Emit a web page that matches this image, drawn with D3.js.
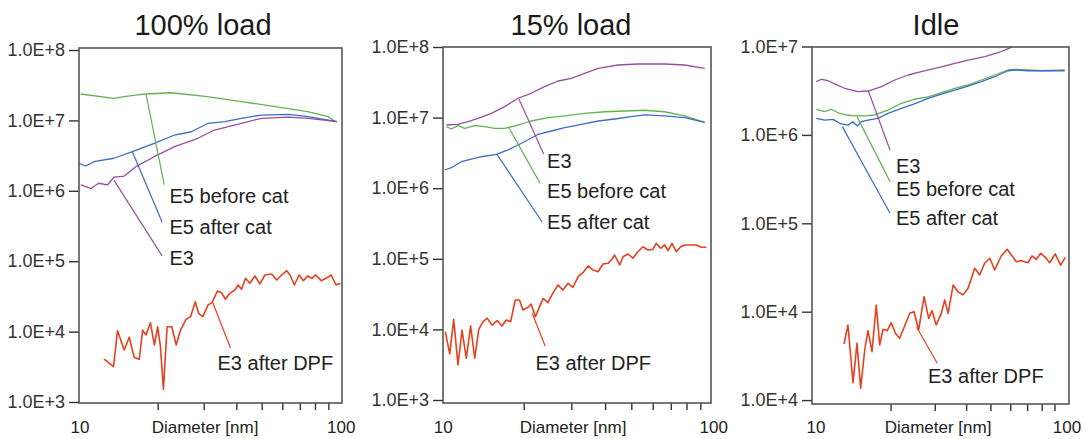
<!DOCTYPE html>
<html>
<head>
<meta charset="utf-8">
<script src="https://cdn.jsdelivr.net/npm/d3@7"></script>
<style>
  body { margin: 0; background: #fff; }
  text { font-family: "Liberation Sans", Arial, sans-serif; }
</style>
</head>
<body>
<svg id="chart" width="1086" height="439"></svg>
<script>
// ---- data: [diameter nm, concentration] ----
const load100_E5before = [[10.15,2.37e7],[13.6,2.06e7],[14.9,2.17e7],[16.7,2.3e7],[18.1,2.37e7],[22.5,2.47e7],[31.0,2.17e7],[41.9,1.85e7],[56.3,1.57e7],[75.0,1.33e7],[90.0,1.13e7],[95.6,9.6e6]];
const load100_E5after = [[10.0,2.46e6],[10.6,2.25e6],[11.4,2.59e6],[13.6,2.9e6],[16.0,3.59e6],[19.4,4.73e6],[23.2,6.2e6],[26.9,6.9e6],[31.2,9.1e6],[36.1,9.6e6],[41.8,1.07e7],[49.9,1.19e7],[63.2,1.22e7],[75.5,1.13e7],[97.2,9.6e6]];
const load100_E3 = [[10.15,1.21e6],[11.1,1.08e6],[11.9,1.28e6],[12.85,1.21e6],[13.6,1.56e6],[14.9,1.62e6],[16.5,2.2e6],[19.4,3.05e6],[23.2,4.23e6],[28.5,5.57e6],[33.0,7.3e6],[41.8,9.1e6],[49.9,1.07e7],[63.2,1.11e7],[75.5,1.07e7],[97.2,9.6e6]];
const load100_E3DPF = [[12.48,4.05e3],[13.55,3.17e3],[14.04,1.03e4],[14.9,5.48e3],[15.57,8.3e3],[16.27,4.3e3],[17.01,4.05e3],[17.52,1.05e4],[18.05,8.95e3],[18.76,1.34e4],[19.43,6.45e3],[20.0,1.17e4],[20.5,6.1e3],[21.04,1.51e3],[21.74,1.17e4],[22.65,1.17e4],[23.55,6.45e3],[24.46,1.05e4],[25.72,1.5e4],[26.73,1.63e4],[27.86,2.66e4],[28.69,1.82e4],[29.8,1.63e4],[31.16,2.39e4],[32.28,2.58e4],[33.86,3.77e4],[35.08,3.57e4],[36.35,2.88e4],[37.76,3.5e4],[39.47,3.9e4],[40.63,4.59e4],[41.88,3.99e4],[43.39,5.71e4],[45.07,4.85e4],[47.12,6.16e4],[49.24,4.75e4],[51.47,6.37e4],[54.61,6.58e4],[57.08,5.41e4],[59.67,6.37e4],[62.37,7.33e4],[64.22,6.37e4],[66.71,4.59e4],[69.55,6.37e4],[72.24,5.29e4],[75.1,6.16e4],[77.8,5.71e4],[80.6,6.37e4],[84.5,5.29e4],[88.1,5.71e4],[92.3,6.37e4],[96.3,4.59e4],[100,4.85e4]];

const load15_E3 = [[10.35,7.85e6],[11.43,8.04e6],[12.45,8.75e6],[13.55,9.77e6],[15.17,1.15e7],[17.0,1.43e7],[19.05,1.88e7],[21.3,2.21e7],[23.9,2.74e7],[26.8,3.3e7],[30.0,3.6e7],[33.6,4.24e7],[37.7,4.99e7],[44.7,5.56e7],[53.0,5.74e7],[66.4,5.74e7],[78.8,5.56e7],[93.4,4.99e7]];
const load15_E5before = [[10.35,7.43e6],[10.8,6.9e6],[11.43,7.68e6],[12.1,7.05e6],[13.18,7.68e6],[14.35,7.43e6],[15.62,7.05e6],[17.0,7.05e6],[19.05,7.85e6],[21.3,8.95e6],[24.6,9.97e6],[28.4,1.06e7],[33.6,1.15e7],[39.9,1.21e7],[47.3,1.24e7],[56.1,1.27e7],[66.4,1.21e7],[78.8,1.06e7],[93.4,8.57e6]];
const load15_E5after = [[10.2,1.81e6],[10.8,1.95e6],[11.76,2.37e6],[12.8,2.59e6],[13.94,2.79e6],[15.84,3.02e6],[17.5,3.48e6],[19.05,4.09e6],[20.7,4.82e6],[22.6,5.8e6],[25.3,6.46e6],[28.4,7.2e6],[32.7,8.04e6],[37.7,8.95e6],[43.4,9.55e6],[50.0,1.03e7],[56.1,1.09e7],[66.4,1.06e7],[78.8,9.97e6],[93.4,8.57e6]];
const load15_E3DPF = [[10.26,9.27e3],[10.65,4.49e3],[11.02,1.39e4],[11.43,3.13e3],[11.83,9.8e3],[12.27,3.9e3],[12.73,1.12e4],[13.18,3.9e3],[13.64,1.0e4],[14.15,1.29e4],[14.66,1.44e4],[15.27,1.15e4],[15.97,1.33e4],[16.62,1.12e4],[17.25,1.36e4],[17.9,1.29e4],[18.6,2.61e4],[19.3,2.61e4],[19.87,1.88e4],[20.75,2.06e4],[21.3,2.29e4],[22.1,1.51e4],[22.9,2.1e4],[23.6,2.75e4],[24.6,2.39e4],[25.6,3.24e4],[26.8,4.26e4],[27.9,3.61e4],[29.2,4.5e4],[30.4,3.95e4],[31.8,5.58e4],[33.1,6.35e4],[34.6,7.91e4],[36.1,6.93e4],[37.7,6.57e4],[39.3,8.44e4],[41.0,8.63e4],[42.4,9.84e4],[43.4,1.13e5],[45.3,8.17e4],[46.6,1.07e5],[48.6,1.17e5],[50.7,1.02e5],[52.9,1.26e5],[55.2,1.48e5],[57.6,1.33e5],[60.1,1.36e5],[61.8,1.66e5],[64.2,1.41e5],[66.4,1.57e5],[68.4,1.3e5],[70.7,1.66e5],[73.3,1.26e5],[76.2,1.48e5],[78.8,1.57e5],[83.3,1.57e5],[86.9,1.57e5],[90.7,1.46e5],[94.7,1.46e5]];

const idle_E3 = [[10.12,4.0e6],[10.6,4.26e6],[11.27,4.1e6],[11.98,3.77e6],[13.12,3.37e6],[14.83,3.08e6],[16.5,3.16e6],[18.4,3.51e6],[20.8,4.18e6],[23.5,4.76e6],[26.5,5.19e6],[31.9,5.9e6],[36.1,6.46e6],[40.7,7.03e6],[47.5,7.67e6],[53.6,8.5e6],[60.6,9.8e6],[63.4,1.05e7]];
const idle_E5before = [[10.12,1.95e6],[10.93,1.83e6],[11.61,1.95e6],[12.35,1.78e6],[13.33,1.68e6],[14.39,1.64e6],[15.78,1.64e6],[17.3,1.68e6],[19.54,1.91e6],[22.08,2.28e6],[24.9,2.53e6],[28.2,2.7e6],[31.9,3.0e6],[36.1,3.37e6],[40.7,3.67e6],[46.0,4.18e6],[52.0,4.76e6],[58.7,5.42e6],[62.5,5.52e6],[70.6,5.42e6],[79.7,5.32e6],[98.8,5.42e6]];
const idle_E5after = [[10.12,1.54e6],[10.93,1.47e6],[11.79,1.5e6],[12.73,1.33e6],[13.53,1.29e6],[14.17,1.41e6],[14.74,1.26e6],[15.29,1.41e6],[16.25,1.47e6],[17.8,1.54e6],[19.54,1.75e6],[22.08,2.0e6],[24.9,2.24e6],[28.2,2.59e6],[31.9,2.9e6],[36.1,3.22e6],[40.7,3.57e6],[46.0,4.0e6],[52.0,4.55e6],[58.7,5.32e6],[62.5,5.42e6],[70.6,5.32e6],[79.7,5.32e6],[98.8,5.32e6]];
const idle_E3DPF = [[13.05,4.31e3],[13.53,7.08e3],[14.17,1.57e3],[14.7,4.39e3],[15.2,1.36e3],[15.78,3.69e3],[16.26,6.1e3],[16.87,3.53e3],[17.54,1.19e4],[18.1,4.2e3],[18.66,6.32e3],[19.41,6.1e3],[20.14,7.51e3],[20.9,5.7e3],[21.74,5.0e3],[22.76,6.89e3],[23.84,9.59e3],[24.8,1.0e4],[25.88,6.21e3],[27.2,1.48e4],[28.37,8.41e3],[29.25,1.03e4],[30.4,7.08e3],[31.86,9.59e3],[32.86,1.36e4],[33.9,9.59e3],[35.5,2.0e4],[37.1,1.68e4],[38.9,1.55e4],[40.7,1.84e4],[42.2,2.49e4],[43.3,3.1e4],[45.3,2.6e4],[47.4,3.53e4],[49.7,4.02e4],[52.0,2.96e4],[55.2,4.27e4],[58.3,5.08e4],[60.6,4.38e4],[63.4,3.68e4],[66.4,3.78e4],[70.6,3.58e4],[73.2,4.27e4],[76.2,3.92e4],[79.3,4.58e4],[82.7,4.12e4],[86.1,3.58e4],[90.6,4.5e4],[95.2,3.37e4],[99.3,4.12e4]];

// tick values and labels
const xTicks = [20, 30, 40, 50, 60, 70, 80, 90];
const loadTicks = [1e8, 1e7, 1e6, 1e5, 1e4, 1e3];
const loadTickLabels = ["1.0E+8", "1.0E+7", "1.0E+6", "1.0E+5", "1.0E+4", "1.0E+3"];
const idleTicks = [1e7, 1e6, 1e5, 1e4, 1e3];
const idleTickLabels = ["1.0E+7", "1.0E+6", "1.0E+5", "1.0E+4", "1.0E+4"];

// leader labels: text, anchor on curve [d, v], leader end [d, v], text pos [d, v]
const load100_notes = [
  ["E5 before cat", "green",  [18.06, 2.35e7], [21.2, 1.21e6], [22.2, 6.7e5]],
  ["E5 after cat",  "blue",   [16.0, 3.59e6],  [20.8, 3.6e5],  [22.2, 2.43e5]],
  ["E3",            "purple", [13.6, 1.42e6],  [20.8, 1.19e5], [22.2, 8.8e4]],
  ["E3 after DPF",  "red",    [32.4, 2.66e4],  [38.0, 5.85e3], [33.9, 2.85e3]]
];
const load15_notes = [
  ["E3",            "purple", [19.2, 1.83e7],  [23.7, 3.05e6], [24.4, 1.93e6]],
  ["E5 before cat", "green",  [17.6, 7.29e6],  [23.0, 1.17e6], [24.4, 7.2e5]],
  ["E5 after cat",  "blue",   [15.9, 3.05e6],  [23.4, 3.32e5], [24.4, 2.64e5]],
  ["E3 after DPF",  "red",    [21.5, 1.69e4],  [24.0, 5.82e3], [22.1, 2.66e3]]
];
const idle_notes = [
  ["E3",            "purple", [16.3, 3.16e6],  [19.9, 6.75e5], [21.0, 3.7e5]],
  ["E5 before cat", "green",  [14.7, 1.61e6],  [19.9, 2.96e5], [21.0, 2.04e5]],
  ["E5 after cat",  "blue",   [12.85, 1.24e6], [19.9, 1.3e5],  [21.0, 9.57e4]],
  ["E3 after DPF",  "red",    [25.4, 6.67e3],  [30.7, 2.61e3], [28.2, 1.56e3]]
];

const colors = { green: "#62b254", blue: "#3d6cc4", purple: "#9a4c9e", red: "#e6401e" };

const panels = [
  { title: "100% load", cx: 203, frame: [79, 342, 48, 403], xr: [79, 340.3], yd: [1e3, 1e8], yr: [402, 50],
    ticks: loadTicks, labels: loadTickLabels, notes: load100_notes,
    series: [[load100_E5before, "green"], [load100_E5after, "blue"], [load100_E3, "purple"], [load100_E3DPF, "red"]] },
  { title: "15% load", cx: 571, frame: [443, 711, 47, 403], xr: [442.3, 712.7], yd: [1e3, 1e8], yr: [400, 47],
    ticks: loadTicks, labels: loadTickLabels, notes: load15_notes,
    series: [[load15_E5before, "green"], [load15_E5after, "blue"], [load15_E3, "purple"], [load15_E3DPF, "red"]] },
  { title: "Idle", cx: 936, frame: [812, 1069, 47, 404], xr: [815, 1066], yd: [1e3, 1e7], yr: [400.1, 46.5],
    ticks: idleTicks, labels: idleTickLabels, notes: idle_notes,
    series: [[idle_E5before, "green"], [idle_E5after, "blue"], [idle_E3, "purple"], [idle_E3DPF, "red"]] }
];

const svg = d3.select("#chart");
const defs = svg.append("defs");

panels.forEach((p, i) => {
  const [fl, fr, ft, fb] = p.frame;
  const x = d3.scaleLog().domain([10, 100]).range(p.xr);
  const y = d3.scaleLog().domain(p.yd).range(p.yr);
  const g = svg.append("g");

  defs.append("clipPath").attr("id", "clip" + i)
    .append("rect").attr("x", fl).attr("y", ft).attr("width", fr - fl).attr("height", fb - ft);

  // title
  g.append("text").attr("x", p.cx).attr("y", 35).attr("text-anchor", "middle")
    .attr("font-size", 29).attr("fill", "#1a1a1a").text(p.title);

  // y axis
  g.append("g")
    .attr("transform", `translate(${fl},0)`)
    .call(d3.axisLeft(y).tickValues(p.ticks).tickFormat((d, j) => p.labels[j]).tickSize(10).tickPadding(4))
    .call(a => a.select(".domain").remove())
    .attr("font-size", 18).attr("font-family", "Liberation Sans, Arial, sans-serif")
    .attr("color", "#333")
    .selectAll("line").attr("stroke-width", 1.4);

  // x axis ticks
  g.append("g")
    .attr("transform", `translate(0,${fb})`)
    .call(d3.axisBottom(x).tickValues(xTicks).tickFormat("").tickSize(7))
    .call(a => a.select(".domain").remove())
    .attr("color", "#333")
    .selectAll("line").attr("stroke-width", 1.4);

  g.append("text").attr("x", x(10) + 1).attr("y", 433).attr("text-anchor", "middle")
    .attr("font-size", 17).attr("fill", "#222").text("10");
  g.append("text").attr("x", x(100) + 1).attr("y", 433).attr("text-anchor", "middle")
    .attr("font-size", 17).attr("fill", "#222").text("100");
  g.append("text").attr("x", p.cx + 2).attr("y", 433).attr("text-anchor", "middle")
    .attr("font-size", 17).attr("fill", "#222").text("Diameter [nm]");

  // series
  const line = d3.line().x(d => x(d[0])).y(d => y(d[1]));
  const plot = g.append("g").attr("clip-path", `url(#clip${i})`);
  p.series.forEach(([data, c]) => {
    plot.append("path").datum(data).attr("d", line)
      .attr("fill", "none").attr("stroke", colors[c])
      .attr("stroke-width", c === "red" ? 1.6 : 1.3).attr("stroke-linejoin", "round");
  });

  // leaders and labels
  p.notes.forEach(([txt, c, a, e, t]) => {
    g.append("line")
      .attr("x1", x(a[0])).attr("y1", y(a[1])).attr("x2", x(e[0])).attr("y2", y(e[1]))
      .attr("stroke", colors[c]).attr("stroke-width", 1.2);
    g.append("text").attr("x", x(t[0])).attr("y", y(t[1]))
      .attr("font-size", 20).attr("fill", "#222").text(txt);
  });

  // frame
  g.append("rect").attr("x", fl).attr("y", ft).attr("width", fr - fl).attr("height", fb - ft)
    .attr("fill", "none").attr("stroke", "#555").attr("stroke-width", 1.6);
});
</script>
</body>
</html>
